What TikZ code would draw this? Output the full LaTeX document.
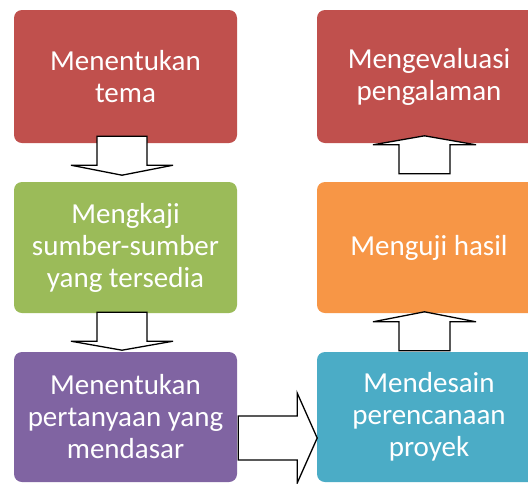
\documentclass[tikz,border=0pt]{standalone}
\usepackage{fontspec}
\setmainfont{Carlito}
\usetikzlibrary{calc}
\definecolor{cred}{HTML}{C0504D}
\definecolor{cgreen}{HTML}{9BBB59}
\definecolor{cpurple}{HTML}{8064A2}
\definecolor{corange}{HTML}{F79646}
\definecolor{cblue}{HTML}{4BACC6}
\tikzset{
  box/.style={rounded corners=8pt, inner sep=0pt, align=center, text=white,
    font=\fontsize{29}{32}\selectfont},
  blockarrow/.style={draw=black, fill=white, line width=1.3pt, line join=miter},
}
\begin{document}
\begin{tikzpicture}[x=1pt,y=-1pt]
\clip (0,0) rectangle (528,483);
\fill[white] (0,0) rectangle (528,483);
% left column
\node[box, fill=cred, minimum width=223pt, minimum height=133pt] (b1) at (125.5,76.5) {Menentukan\\tema};
\node[box, fill=cgreen, minimum width=223pt, minimum height=131pt] (b2) at (125.5,247.5) {Mengkaji\\sumber-sumber\\yang tersedia};
\node[box, fill=cpurple, minimum width=223pt, minimum height=130pt] (b3) at (125.5,417) {Menentukan\\pertanyaan yang\\mendasar};
% right column
\node[box, fill=cred, minimum width=224pt, minimum height=133pt] (r1) at (429,76.5) {Mengevaluasi\\pengalaman};
\node[box, fill=corange, minimum width=224pt, minimum height=131pt] (r2) at (429,247.5) {Menguji hasil};
\node[box, fill=cblue, minimum width=224pt, minimum height=130pt] (r3) at (429,417) {Mendesain\\perencanaan\\proyek};
% down arrows
\draw[blockarrow] ($(b1.south)+(-28.5,-7)$) -- ++(50,0) -- ++(0,29) -- ++(26,0) -- ++(-51,10) -- ++(-51,-10) -- ++(26,0) -- cycle;
\draw[blockarrow] ($(b2.south)+(-28.5,-1)$) -- ++(50,0) -- ++(0,29) -- ++(26,0) -- ++(-51,9) -- ++(-51,-9) -- ++(26,0) -- cycle;
% right arrow
\draw[blockarrow] ($(b3.east)+(1,-1)$) -- ++(59,0) -- ++(0,-23) -- ++(20,45) -- ++(-20,45) -- ++(0,-23) -- ++(-59,0) -- cycle;
% up arrows
\draw[blockarrow] ($(r3.north)+(-30,-1)$) -- ++(51,0) -- ++(0,-29) -- ++(26,0) -- ++(-51.5,-10) -- ++(-51.5,10) -- ++(26,0) -- cycle;
\draw[blockarrow] ($(r2.north)+(-30,-8)$) -- ++(51,0) -- ++(0,-29) -- ++(26,0) -- ++(-51.5,-9) -- ++(-51.5,9) -- ++(26,0) -- cycle;
\end{tikzpicture}
\end{document}
